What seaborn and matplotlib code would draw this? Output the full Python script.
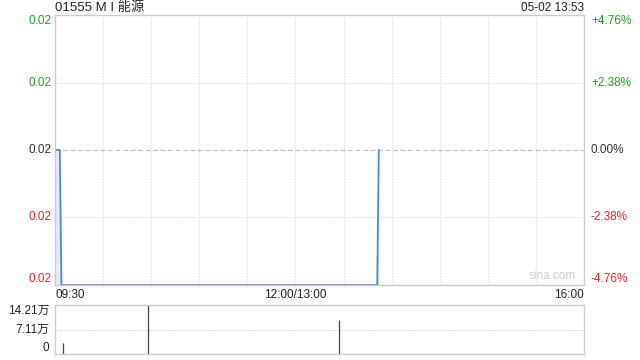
import matplotlib
matplotlib.use("Agg")
import matplotlib.pyplot as plt
import seaborn as sns
import pandas as pd

# ---- data ----
title = "01555 M I 能源"
stamp = "05-02 13:53"
price_minutes = [0, 3, 4, 201, 202]
prices = [0.021, 0.021, 0.020, 0.020, 0.021]
prev_close = 0.021
y_ticks = [0.022, 0.0215, 0.021, 0.0205, 0.020]
pct_labels = ["+4.76%", "+2.38%", "0.00%", "-2.38%", "-4.76%"]
x_tick_pos = [0, 150, 330]
x_tick_labels = ["09:30", "12:00/13:00", "16:00"]
vol_minutes = [5, 58, 177]
vol_values = [3.2, 14.21, 9.86]  # 万
vol_ticks = [0, 7.105, 14.21]
vol_labels = ["0", "7.11万", "14.21万"]

sns.set_style("white")
plt.rcParams['font.family'] = ['Liberation Sans', 'Noto Sans CJK SC', 'DejaVu Sans']

GREEN = "#1ea51e"
RED = "#e8282b"
DARK = "#333333"
GRID = "#d8d8d8"
BORDER = "#cccccc"
LINE = "#4f86d9"

fig = plt.figure(figsize=(6.4, 3.6), dpi=100)
W, H = 640, 360
def rect(x0, y0, x1, y1):
    return [x0 / W, 1 - y1 / H, (x1 - x0) / W, (y1 - y0) / H]

ax = fig.add_axes(rect(55, 15, 584, 285))
df = pd.DataFrame({"t": price_minutes, "p": prices})
ax.fill_between(df["t"], df["p"], 0.020, color="#e4ecf8", lw=0)
sns.lineplot(data=df, x="t", y="p", ax=ax, color=LINE, lw=1.3)
ax.set_xlim(0, 330)
ax.set_ylim(0.020, 0.022)
for s in ax.spines.values():
    s.set_color(BORDER)
    s.set_linewidth(1)
for m in range(30, 330, 30):
    ax.axvline(m, color=GRID, lw=0.8, ls=(0, (1, 1.5)), zorder=0)
for y in [0.0215, 0.0205]:
    ax.axhline(y, color=GRID, lw=0.8, ls=(0, (1, 1.5)), zorder=0)
ax.axhline(prev_close, color="#c4c4c4", lw=0.9, ls=(0, (4, 2)), zorder=0)

ax.set_yticks(y_ticks)
ax.set_yticklabels(["%.2f" % v for v in y_ticks])
left_colors = [GREEN, GREEN, DARK, RED, RED]
vas = ["top", "center", "center", "center", "bottom"]
for lab, c, va in zip(ax.get_yticklabels(), left_colors, vas):
    lab.set_color(c)
    lab.set_va(va)
    lab.set_fontsize(8.5)
ax.tick_params(axis="y", length=0, pad=2.5)
ax.set_xticks(x_tick_pos)
ax.set_xticklabels(x_tick_labels)
has = ["left", "center", "right"]
for lab, ha in zip(ax.get_xticklabels(), has):
    lab.set_ha(ha)
    lab.set_fontsize(8.5)
    lab.set_color("#222222")
ax.tick_params(axis="x", length=0, pad=3)
ax.set_xlabel("")
ax.set_ylabel("")

ax2 = ax.twinx()
ax2.set_ylim(0.020, 0.022)
ax2.set_yticks(y_ticks)
ax2.set_yticklabels(pct_labels)
for lab, c, va in zip(ax2.get_yticklabels(), left_colors, vas):
    lab.set_color(c)
    lab.set_va(va)
    lab.set_fontsize(8.5)
ax2.tick_params(axis="y", length=0, pad=5)
for s in ax2.spines.values():
    s.set_visible(False)

fig.text(55 / W, 1 - 8 / H, title, ha="left", va="center",
         fontsize=9.5, color="#222222")
fig.text(584 / W, 1 - 8 / H, stamp, ha="right", va="center",
         fontsize=8.5, color="#222222")
ax.text(0.985, 0.01, "sina.com", transform=ax.transAxes, ha="right", va="bottom",
        fontsize=8.5, color="#d0d0d0")

# volume
axv = fig.add_axes(rect(55, 305, 584, 354))
axv.vlines(vol_minutes, 0, vol_values, color="#444444", lw=0.9)
axv.set_xlim(0, 330)
axv.set_ylim(0, 14.21)
axv.set_xticks([])
axv.set_yticks(vol_ticks)
axv.set_yticklabels(vol_labels)
for lab, va in zip(axv.get_yticklabels(), ["bottom", "center", "top"]):
    lab.set_va(va)
    lab.set_fontsize(8.5)
    lab.set_color("#222222")
axv.tick_params(axis="y", length=0, pad=4)
for k, s in axv.spines.items():
    s.set_color(BORDER)
    s.set_linewidth(1)
axv.spines["top"].set_linestyle((0, (1, 1)))
axv.spines["bottom"].set_linestyle((0, (1, 1)))
axv.axhline(7.105, color=GRID, lw=0.8, ls=(0, (1, 1)), zorder=0)

fig.savefig("out.png", dpi=100)
